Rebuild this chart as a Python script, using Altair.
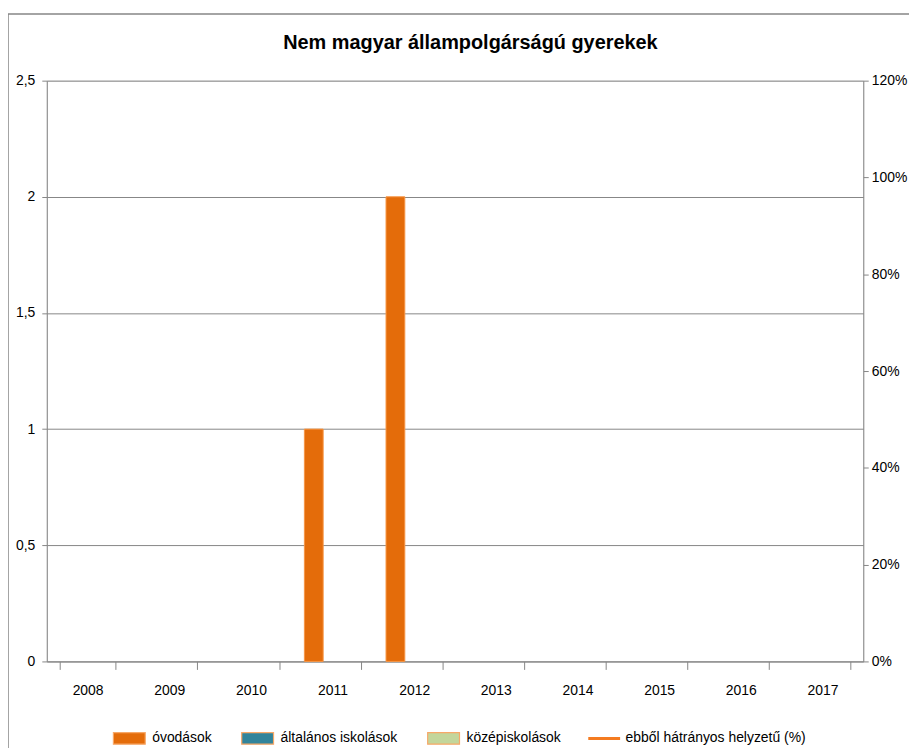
import altair as alt
import pandas as pd

years = ["2008", "2009", "2010", "2011", "2012", "2013", "2014", "2015", "2016", "2017"]
ovodasok = [0, 0, 0, 1, 2, 0, 0, 0, 0, 0]
altalanos = [0, 0, 0, 0, 0, 0, 0, 0, 0, 0]
kozep = [0, 0, 0, 0, 0, 0, 0, 0, 0, 0]
hatranyos = [None] * 10

title_text = "Nem magyar állampolgárságú gyerekek"
bar_series = ["óvodások", "általános iskolások", "középiskolások"]
bar_colors = ["#E46C0A", "#31849B", "#C3D69B"]
line_name = "ebből hátrányos helyzetű (%)"
line_color = "#F47B20"

FONT = "Liberation Sans, Arial, sans-serif"
GREY = "#868686"
FS = 14

rows = []
for name, vals in zip(bar_series, [ovodasok, altalanos, kozep]):
    for y, v in zip(years, vals):
        rows.append({"year": y, "series": name, "value": v})
bars_df = pd.DataFrame(rows)
line_df = pd.DataFrame({"year": years, "series": line_name, "pct": hatranyos})

x_enc = alt.X(
    "year:N",
    sort=years,
    scale=alt.Scale(domain=years, paddingInner=0.31, paddingOuter=0.155),
    axis=alt.Axis(
        title=None, labelAngle=0, tickBand="extent", domainColor=GREY, tickColor=GREY,
        tickSize=8, labelPadding=14, labelFont=FONT, labelFontSize=FS, labelColor="#000",
        grid=False,
    ),
)

bars = alt.Chart(bars_df).transform_filter("datum.value > 0").mark_bar(
    stroke="#F79646", strokeWidth=1
).encode(
    x=x_enc,
    xOffset=alt.XOffset("series:N", sort=bar_series,
                        scale=alt.Scale(domain=bar_series, paddingInner=0, paddingOuter=0)),
    y=alt.Y(
        "value:Q",
        scale=alt.Scale(domain=[0, 2.5], nice=False),
        axis=alt.Axis(
            title=None, values=[0, 0.5, 1, 1.5, 2, 2.5],
            labelExpr="replace(toString(datum.value), '.', ',')",
            domainColor=GREY, tickColor=GREY, tickSize=5, labelPadding=7,
            gridColor=GREY, grid=True, labelFont=FONT, labelFontSize=FS, labelColor="#000",
        ),
    ),
    color=alt.Color(
        "series:N",
        scale=alt.Scale(domain=bar_series, range=bar_colors),
        legend=alt.Legend(
            title=None, orient="none", direction="horizontal", legendX=66, legendY=644,
            symbolType="M-1,-0.36H1V0.36H-1Z", symbolSize=1024, symbolOpacity=1,
            symbolStrokeColor="#F7A868", symbolStrokeWidth=1.2,
            labelFont=FONT, labelFontSize=FS, labelColor="#000", labelOffset=6,
            labelLimit=400, columnPadding=27,
        ),
    ),
)

line = alt.Chart(line_df).mark_line(strokeWidth=3).encode(
    x=alt.X("year:N", sort=years),
    y=alt.Y(
        "pct:Q",
        scale=alt.Scale(domain=[0, 1.2], nice=False),
        axis=alt.Axis(
            title=None, orient="right", values=[0, 0.2, 0.4, 0.6, 0.8, 1.0, 1.2], format=".0%",
            domainColor=GREY, tickColor=GREY, tickSize=5, labelPadding=3, grid=False,
            labelFont=FONT, labelFontSize=FS, labelColor="#000",
        ),
    ),
    stroke=alt.Stroke(
        "series:N",
        scale=alt.Scale(domain=[line_name], range=[line_color]),
        legend=alt.Legend(
            title=None, orient="none", direction="horizontal", legendX=543, legendY=644,
            symbolType="stroke", symbolSize=1024, symbolStrokeWidth=3,
            labelFont=FONT, labelFontSize=FS, labelColor="#000", labelOffset=4,
            labelLimit=400,
        ),
    ),
)

frame_df = pd.DataFrame({"k": [0]})
frame = alt.Chart(frame_df).mark_rect(
    fillOpacity=0, stroke=GREY, strokeWidth=1.5, clip=False
).encode(
    x=alt.value(-39), x2=alt.value(900), y=alt.value(-67), y2=alt.value(900)
)

title_df = pd.DataFrame({"t": [title_text]})
title = alt.Chart(title_df).mark_text(
    font=FONT, fontSize=20, fontWeight="bold", color="#000",
    align="center", baseline="middle", clip=False,
).encode(text="t:N", x=alt.value(426), y=alt.value(-38))

chart = alt.layer(frame, title, bars, line).resolve_scale(
    y="independent", color="independent", stroke="independent"
).properties(
    width=821,
    height=584,
    padding={"left": 39, "top": 71, "right": 46, "bottom": 85},
    autosize=alt.AutoSizeParams(type="none"),
).configure_view(stroke=None).configure(background="white")

chart.save("out.html", embed_options={"renderer": "svg", "actions": False})
